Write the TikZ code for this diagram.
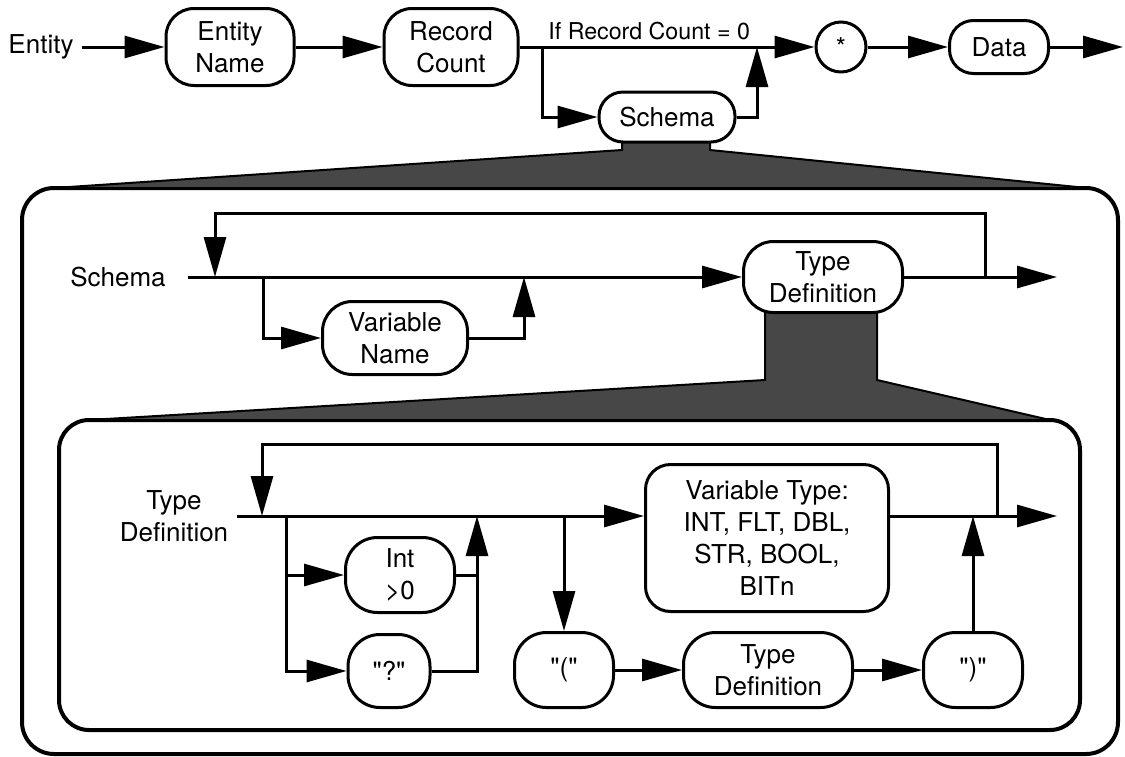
\documentclass[tikz,border=0pt]{standalone}
\usepackage{fontspec}
\setmainfont{TeX Gyre Heros}[Ligatures=TeXOff]
\usetikzlibrary{arrows.meta}
\begin{document}
\begin{tikzpicture}[x=0.5pt,y=-0.5pt,
  ln/.style={line width=1.5pt},
  arr/.style={ln,-{Triangle[length=20pt,width=11pt]}},
  rbox/.style={draw,line width=1.5pt,fill=white,align=center,inner sep=0pt,font=\fontsize{13}{16}\selectfont},
  lbl/.style={align=center,inner sep=0pt,font=\fontsize{13}{16}\selectfont},
  band/.style={fill=black!72,draw=black,line width=1pt},
  frame/.style={draw,line width=2pt,fill=white}
]
\useasboundingbox (0,0) rectangle (1125,756);
% frames and funnels
\draw[frame,rounded corners=16pt] (22,188) rectangle (1118,754);
\filldraw[band] (54,188) -- (622,150) -- (622,130) -- (710,130) -- (710,150) -- (1087,188) -- cycle;
\draw[frame,rounded corners=15pt] (59,420) rectangle (1080,730);
\filldraw[band] (89,420) -- (765,380) -- (765,295) -- (877,295) -- (877,380) -- (1050,420) -- cycle;

% top row
\node[lbl] (entlbl) at (41,47) {Entity};
\node[rbox,minimum width=64pt,minimum height=38.5pt,rounded corners=14pt] (en) at (230,47) {Entity\\Name};
\node[rbox,minimum width=67pt,minimum height=38.5pt,rounded corners=14pt] (rc) at (451,47) {Record\\Count};
\node[rbox,circle,minimum size=25pt] (star) at (841,47) {*};
\node[rbox,minimum width=49.5pt,minimum height=26.5pt,rounded corners=12pt] (data) at (999,47) {Data};
\node[rbox,minimum width=68pt,minimum height=25pt,rounded corners=12pt] (schema) at (667,117) {Schema};
\node[anchor=south west,inner sep=0pt,font=\fontsize{11.6}{13}\selectfont] (cond) at (548,40) {If Record Count = 0};

% schema section
\node[lbl] (schlbl) at (118,277) {Schema};
\node[rbox,minimum width=79.5pt,minimum height=35.5pt,rounded corners=15pt] (td1) at (823,277) {Type\\Definition};
\node[rbox,minimum width=72.5pt,minimum height=36.5pt,rounded corners=15pt] (vn) at (395,338) {Variable\\Name};

% type definition section
\node[lbl] (tdlbl) at (174,516) {Type\\Definition};
\node[rbox,minimum width=121.5pt,minimum height=73.5pt,rounded corners=12.5pt] (vt) at (767,538) {Variable Type:\\INT, FLT, DBL,\\STR, BOOL,\\BITn};
\node[rbox,minimum width=54.5pt,minimum height=37.5pt,rounded corners=16pt] (int) at (400,575) {Int\\>0};
\node[rbox,minimum width=41pt,minimum height=36.5pt,rounded corners=16pt] (q) at (389,671) {"?"};
\node[rbox,minimum width=49.5pt,minimum height=37.5pt,rounded corners=16pt] (lp) at (564,670) {"("};
\node[rbox,minimum width=84.5pt,minimum height=37.5pt,rounded corners=16pt] (td2) at (768,670) {Type\\Definition};
\node[rbox,minimum width=49.5pt,minimum height=37.5pt,rounded corners=16pt] (rp) at (973,670) {")"};

% top row connectors
\coordinate (e0) at (82,47);
\coordinate (s1) at (542,47);
\coordinate (j1) at (757,47);
\coordinate (endtop) at (1123,47);
\draw[arr] (e0) -- (en.west);
\draw[arr] (en.east) -- (rc.west);
\draw[arr] (rc.east) -- (star.west);
\draw[arr] (s1) |- (schema.west);
\draw[arr] (schema.east) -| (j1);
\draw[arr] (star.east) -- (data.west);
\draw[arr] (data.east) -- (endtop);

% schema connectors
\coordinate (m0) at (188,277);
\coordinate (l1) at (215,277);
\coordinate (l2) at (985,277);
\coordinate (b1) at (263,277);
\coordinate (b2) at (524,277);
\coordinate (o1) at (1057,277);
\draw[arr] (m0) -- (td1.west);
\draw[arr] (l2) -- ++(0,-64) -| (l1);
\draw[arr] (b1) |- (vn.west);
\draw[arr] (vn.east) -| (b2);
\draw[arr] (td1.east) -- (o1);

% type definition connectors
\coordinate (n0) at (237,516);
\coordinate (k1) at (262,516);
\coordinate (k2) at (997,516);
\coordinate (c1) at (286,516);
\coordinate (c2) at (477,516);
\coordinate (c3) at (564,516);
\coordinate (c4) at (973,516);
\coordinate (o2) at (1057,516);
\draw[arr] (n0) -- (vt.west |- n0);
\draw[arr] (k2) -- ++(0,-72) -| (k1);
\draw[arr] (c1) |- (q.west);
\draw[arr] (c1 |- int.west) -- (int.west);
\draw[arr] (q.east) -| (c2);
\draw[ln] (int.east) -- (c2 |- int.east);
\draw[arr] (c3) -- (lp.north);
\draw[arr] (lp.east) -- (td2.west);
\draw[arr] (td2.east) -- (rp.west);
\draw[arr] (rp.north) -- (c4);
\draw[arr] (vt.east |- o2) -- (o2);
\end{tikzpicture}
\end{document}
